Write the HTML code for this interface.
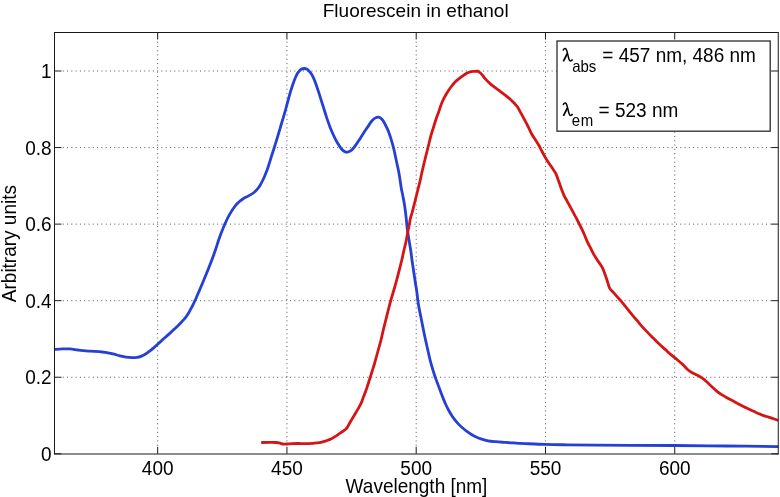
<!DOCTYPE html>
<html><head><meta charset="utf-8"><style>
html,body{margin:0;padding:0;background:#fff;width:780px;height:497px;overflow:hidden}
svg{display:block}
#w{width:780px;height:497px;will-change:transform}
text{font-family:"Liberation Sans",sans-serif;fill:#000}
</style></head><body>
<div id="w">
<svg width="780" height="497" viewBox="0 0 780 497">
<g>
<rect width="780" height="497" fill="#fff"/>
<line x1="62.78" y1="377.24" x2="771.25" y2="377.24" stroke="#555" stroke-width="1" stroke-dasharray="1 3.288"/>
<line x1="62.78" y1="300.68" x2="771.25" y2="300.68" stroke="#555" stroke-width="1" stroke-dasharray="1 3.288"/>
<line x1="62.78" y1="224.12" x2="771.25" y2="224.12" stroke="#555" stroke-width="1" stroke-dasharray="1 3.288"/>
<line x1="62.78" y1="147.56" x2="771.25" y2="147.56" stroke="#555" stroke-width="1" stroke-dasharray="1 3.288"/>
<line x1="62.78" y1="71" x2="771.25" y2="71" stroke="#555" stroke-width="1" stroke-dasharray="1 3.288"/>
<line x1="157.66" y1="445.72" x2="157.66" y2="39.5" stroke="#555" stroke-width="1" stroke-dasharray="1 3.288"/>
<line x1="286.93" y1="445.72" x2="286.93" y2="39.5" stroke="#555" stroke-width="1" stroke-dasharray="1 3.288"/>
<line x1="416.2" y1="445.72" x2="416.2" y2="39.5" stroke="#555" stroke-width="1" stroke-dasharray="1 3.288"/>
<line x1="545.47" y1="445.72" x2="545.47" y2="39.5" stroke="#555" stroke-width="1" stroke-dasharray="1 3.288"/>
<line x1="674.74" y1="445.72" x2="674.74" y2="39.5" stroke="#555" stroke-width="1" stroke-dasharray="1 3.288"/>
<line x1="54.5" y1="453.8" x2="61.5" y2="453.8" stroke="#1a1a1a" stroke-width="1"/>
<line x1="778.25" y1="453.8" x2="771.25" y2="453.8" stroke="#1a1a1a" stroke-width="1"/>
<line x1="54.5" y1="377.24" x2="61.5" y2="377.24" stroke="#1a1a1a" stroke-width="1"/>
<line x1="778.25" y1="377.24" x2="771.25" y2="377.24" stroke="#1a1a1a" stroke-width="1"/>
<line x1="54.5" y1="300.68" x2="61.5" y2="300.68" stroke="#1a1a1a" stroke-width="1"/>
<line x1="778.25" y1="300.68" x2="771.25" y2="300.68" stroke="#1a1a1a" stroke-width="1"/>
<line x1="54.5" y1="224.12" x2="61.5" y2="224.12" stroke="#1a1a1a" stroke-width="1"/>
<line x1="778.25" y1="224.12" x2="771.25" y2="224.12" stroke="#1a1a1a" stroke-width="1"/>
<line x1="54.5" y1="147.56" x2="61.5" y2="147.56" stroke="#1a1a1a" stroke-width="1"/>
<line x1="778.25" y1="147.56" x2="771.25" y2="147.56" stroke="#1a1a1a" stroke-width="1"/>
<line x1="54.5" y1="71" x2="61.5" y2="71" stroke="#1a1a1a" stroke-width="1"/>
<line x1="778.25" y1="71" x2="771.25" y2="71" stroke="#1a1a1a" stroke-width="1"/>
<line x1="157.66" y1="453.8" x2="157.66" y2="446.8" stroke="#1a1a1a" stroke-width="1"/>
<line x1="157.66" y1="32.5" x2="157.66" y2="39.5" stroke="#1a1a1a" stroke-width="1"/>
<line x1="286.93" y1="453.8" x2="286.93" y2="446.8" stroke="#1a1a1a" stroke-width="1"/>
<line x1="286.93" y1="32.5" x2="286.93" y2="39.5" stroke="#1a1a1a" stroke-width="1"/>
<line x1="416.2" y1="453.8" x2="416.2" y2="446.8" stroke="#1a1a1a" stroke-width="1"/>
<line x1="416.2" y1="32.5" x2="416.2" y2="39.5" stroke="#1a1a1a" stroke-width="1"/>
<line x1="545.47" y1="453.8" x2="545.47" y2="446.8" stroke="#1a1a1a" stroke-width="1"/>
<line x1="545.47" y1="32.5" x2="545.47" y2="39.5" stroke="#1a1a1a" stroke-width="1"/>
<line x1="674.74" y1="453.8" x2="674.74" y2="446.8" stroke="#1a1a1a" stroke-width="1"/>
<line x1="674.74" y1="32.5" x2="674.74" y2="39.5" stroke="#1a1a1a" stroke-width="1"/>
<path d="M54.5 349.4C55.75 349.32 59.42 348.98 62 348.9C64.58 348.82 67.33 348.72 70 348.9C72.67 349.08 75.33 349.67 78 350C80.67 350.33 83.33 350.67 86 350.9C88.67 351.13 91.33 351.22 94 351.4C96.67 351.58 99.67 351.77 102 352C104.33 352.23 106 352.43 108 352.8C110 353.17 112 353.68 114 354.2C116 354.72 118 355.4 120 355.9C122 356.4 124 356.9 126 357.2C128 357.5 130.17 357.67 132 357.7C133.83 357.73 135.5 357.62 137 357.4C138.5 357.18 139.5 357 141 356.4C142.5 355.8 144.5 354.73 146 353.8C147.5 352.87 148.67 351.83 150 350.8C151.33 349.77 152.67 348.73 154 347.6C155.33 346.47 156.67 345.22 158 344C159.33 342.78 160.67 341.52 162 340.3C163.33 339.08 164.67 337.9 166 336.7C167.33 335.5 168.67 334.32 170 333.1C171.33 331.88 172.67 330.63 174 329.4C175.33 328.17 176.67 327.02 178 325.7C179.33 324.38 180.75 322.85 182 321.5C183.25 320.15 184.42 318.97 185.5 317.6C186.58 316.23 187.58 314.8 188.5 313.3C189.42 311.8 190.13 310.27 191 308.6C191.87 306.93 192.83 305.07 193.7 303.3C194.57 301.53 195.38 299.83 196.2 298C197.02 296.17 197.8 294.17 198.6 292.3C199.4 290.43 200.17 288.77 201 286.8C201.83 284.83 202.63 282.83 203.6 280.5C204.57 278.17 205.73 275.42 206.8 272.8C207.87 270.18 208.93 267.55 210 264.8C211.07 262.05 212.2 259.05 213.2 256.3C214.2 253.55 215.13 250.88 216 248.3C216.87 245.72 217.6 243.18 218.4 240.8C219.2 238.42 220.02 236.1 220.8 234C221.58 231.9 222.32 230.08 223.1 228.2C223.88 226.32 224.68 224.5 225.5 222.7C226.32 220.9 227.13 219.08 228 217.4C228.87 215.72 229.78 214.13 230.7 212.6C231.62 211.07 232.52 209.58 233.5 208.2C234.48 206.82 235.55 205.47 236.6 204.3C237.65 203.13 238.7 202.13 239.8 201.2C240.9 200.27 242.05 199.43 243.2 198.7C244.35 197.97 245.52 197.43 246.7 196.8C247.88 196.17 249.08 195.62 250.3 194.9C251.52 194.18 252.83 193.45 254 192.5C255.17 191.55 256.3 190.38 257.3 189.2C258.3 188.02 259.15 186.77 260 185.4C260.85 184.03 261.62 182.57 262.4 181C263.18 179.43 263.95 177.73 264.7 176C265.45 174.27 266.18 172.55 266.9 170.6C267.62 168.65 268.28 166.53 269 164.3C269.72 162.07 270.45 159.58 271.2 157.2C271.95 154.82 272.73 152.42 273.5 150C274.27 147.58 275.05 145.13 275.8 142.7C276.55 140.27 277.28 137.8 278 135.4C278.72 133 279.4 130.67 280.1 128.3C280.8 125.93 281.5 123.55 282.2 121.2C282.9 118.85 283.62 116.57 284.3 114.2C284.98 111.83 285.65 109.4 286.3 107C286.95 104.6 287.58 102.08 288.2 99.8C288.82 97.52 289.38 95.38 290 93.3C290.62 91.22 291.27 89.22 291.9 87.3C292.53 85.38 293.17 83.52 293.8 81.8C294.43 80.08 295.05 78.45 295.7 77C296.35 75.55 297.02 74.2 297.7 73.1C298.38 72 299.08 71.1 299.8 70.4C300.52 69.7 301.25 69.22 302 68.9C302.75 68.58 303.53 68.47 304.3 68.5C305.07 68.53 305.83 68.7 306.6 69.1C307.37 69.5 308.12 70.12 308.9 70.9C309.68 71.68 310.52 72.58 311.3 73.8C312.08 75.02 312.87 76.6 313.6 78.2C314.33 79.8 315.02 81.57 315.7 83.4C316.38 85.23 317.03 87.18 317.7 89.2C318.37 91.22 319.03 93.4 319.7 95.5C320.37 97.6 321.03 99.68 321.7 101.8C322.37 103.92 323.03 106.08 323.7 108.2C324.37 110.32 325.02 112.38 325.7 114.5C326.38 116.62 327.08 118.82 327.8 120.9C328.52 122.98 329.23 125.02 330 127C330.77 128.98 331.57 130.92 332.4 132.8C333.23 134.68 334.12 136.55 335 138.3C335.88 140.05 336.78 141.75 337.7 143.3C338.62 144.85 339.58 146.37 340.5 147.6C341.42 148.83 342.27 149.93 343.2 150.7C344.13 151.47 345.08 152.05 346.1 152.2C347.12 152.35 348.23 152.1 349.3 151.6C350.37 151.1 351.43 150.28 352.5 149.2C353.57 148.12 354.62 146.58 355.7 145.1C356.78 143.62 357.92 141.93 359 140.3C360.08 138.67 361.13 136.97 362.2 135.3C363.27 133.63 364.33 131.92 365.4 130.3C366.47 128.68 367.5 127.18 368.6 125.6C369.7 124.02 370.85 122.08 372 120.8C373.15 119.52 374.42 118.5 375.5 117.9C376.58 117.3 377.58 117.12 378.5 117.2C379.42 117.28 380.2 117.75 381 118.4C381.8 119.05 382.52 119.92 383.3 121.1C384.08 122.28 384.88 123.9 385.7 125.5C386.52 127.1 387.45 128.88 388.2 130.7C388.95 132.52 389.55 134.42 390.2 136.4C390.85 138.38 391.47 140.38 392.1 142.6C392.73 144.82 393.42 147.25 394 149.7C394.58 152.15 395.07 154.8 395.6 157.3C396.13 159.8 396.67 162.2 397.2 164.7C397.73 167.2 398.32 169.72 398.8 172.3C399.28 174.88 399.68 177.55 400.1 180.2C400.52 182.85 400.83 185.53 401.3 188.2C401.77 190.87 402.38 193.53 402.9 196.2C403.42 198.87 403.97 201.53 404.4 204.2C404.83 206.87 405.17 209.53 405.5 212.2C405.83 214.87 406.12 217.53 406.4 220.2C406.68 222.87 406.87 225.53 407.2 228.2C407.53 230.87 407.98 233.53 408.4 236.2C408.82 238.87 409.27 241.53 409.7 244.2C410.13 246.87 410.62 249.53 411 252.2C411.38 254.87 411.63 257.53 412 260.2C412.37 262.87 412.8 265.53 413.2 268.2C413.6 270.87 414 273.53 414.4 276.2C414.8 278.87 415.18 281.53 415.6 284.2C416.02 286.87 416.53 289.53 416.9 292.2C417.27 294.87 417.43 297.53 417.8 300.2C418.17 302.87 418.62 305.53 419.1 308.2C419.58 310.87 420.17 313.53 420.7 316.2C421.23 318.87 421.77 321.53 422.3 324.2C422.83 326.87 423.35 329.53 423.9 332.2C424.45 334.87 425.02 337.53 425.6 340.2C426.18 342.87 426.8 345.53 427.4 348.2C428 350.87 428.57 353.53 429.2 356.2C429.83 358.87 430.47 361.53 431.2 364.2C431.93 366.87 432.78 369.63 433.6 372.2C434.42 374.77 435.23 377.18 436.1 379.6C436.97 382.02 437.95 384.43 438.8 386.7C439.65 388.97 440.4 391.08 441.2 393.2C442 395.32 442.8 397.43 443.6 399.4C444.4 401.37 445.13 403.15 446 405C446.87 406.85 447.82 408.72 448.8 410.5C449.78 412.28 450.82 414.05 451.9 415.7C452.98 417.35 454.12 418.92 455.3 420.4C456.48 421.88 457.72 423.28 459 424.6C460.28 425.92 461.63 427.13 463 428.3C464.37 429.47 465.78 430.57 467.2 431.6C468.62 432.63 470 433.58 471.5 434.5C473 435.42 474.62 436.37 476.2 437.1C477.78 437.83 479.02 438.28 481 438.9C482.98 439.52 485.63 440.33 488.1 440.8C490.57 441.27 493.23 441.45 495.8 441.7C498.37 441.95 500.93 442.12 503.5 442.3C506.07 442.48 508.65 442.63 511.2 442.8C513.75 442.97 516.5 443.17 518.8 443.3C521.1 443.43 520.5 443.42 525 443.6C529.5 443.78 538.82 444.2 545.8 444.4C552.78 444.6 558.57 444.67 566.9 444.8C575.23 444.93 585.28 445.12 595.8 445.2C606.32 445.28 616.93 445.25 630 445.3C643.07 445.35 658.2 445.38 674.2 445.5C690.2 445.62 708.67 445.82 726 446C743.33 446.18 769.5 446.5 778.2 446.6" fill="none" stroke="#2540d5" stroke-width="2.8" stroke-linejoin="round"/>
<path d="M261.2 442.5C262.67 442.48 267.45 442.4 270 442.4C272.55 442.4 274.83 442.37 276.5 442.5C278.17 442.63 278.8 442.93 280 443.2C281.2 443.47 282.03 444 283.7 444.1C285.37 444.2 287.67 443.9 290 443.8C292.33 443.7 295.13 443.53 297.7 443.5C300.27 443.47 302.83 443.63 305.4 443.6C307.97 443.57 311.17 443.42 313.1 443.3C315.03 443.18 315.72 443.07 317 442.9C318.28 442.73 319.27 442.65 320.8 442.3C322.33 441.95 324.42 441.38 326.2 440.8C327.98 440.22 329.83 439.63 331.5 438.8C333.17 437.97 334.65 436.82 336.2 435.8C337.75 434.78 339.27 433.75 340.8 432.7C342.33 431.65 344.33 430.37 345.4 429.5C346.47 428.63 346.42 428.72 347.2 427.5C347.98 426.28 349.12 423.92 350.1 422.2C351.08 420.48 352.1 418.87 353.1 417.2C354.1 415.53 355.1 413.88 356.1 412.2C357.1 410.52 358.18 408.78 359.1 407.1C360.02 405.42 360.85 403.85 361.6 402.1C362.35 400.35 362.93 398.37 363.6 396.6C364.27 394.83 364.98 393.18 365.6 391.5C366.22 389.82 366.67 388.42 367.3 386.5C367.93 384.58 368.63 382.42 369.4 380C370.17 377.58 371.07 374.67 371.9 372C372.73 369.33 373.62 366.67 374.4 364C375.18 361.33 375.87 358.67 376.6 356C377.33 353.33 378.07 350.67 378.8 348C379.53 345.33 380.25 343 381 340C381.75 337 382.5 333.33 383.3 330C384.1 326.67 384.97 323.33 385.8 320C386.63 316.67 387.45 313.33 388.3 310C389.15 306.67 389.97 303.33 390.9 300C391.83 296.67 392.93 293.33 393.9 290C394.87 286.67 395.8 283.33 396.7 280C397.6 276.67 398.45 273.33 399.3 270C400.15 266.67 401.02 263.33 401.8 260C402.58 256.67 403.32 253 404 250C404.68 247 405.27 245 405.9 242C406.53 239 407.22 235 407.8 232C408.38 229 408.95 226.33 409.4 224C409.85 221.67 410.02 220 410.5 218C410.98 216 411.67 214.33 412.3 212C412.93 209.67 413.63 206.67 414.3 204C414.97 201.33 415.63 198.67 416.3 196C416.97 193.33 417.63 190.67 418.3 188C418.97 185.33 419.68 182.67 420.3 180C420.92 177.33 421.4 174.67 422 172C422.6 169.33 423.27 166.67 423.9 164C424.53 161.33 425.27 158.17 425.8 156C426.33 153.83 426.55 153.17 427.1 151C427.65 148.83 428.43 145.67 429.1 143C429.77 140.33 430.35 137.67 431.1 135C431.85 132.33 432.77 129.67 433.6 127C434.43 124.33 435.2 121.67 436.1 119C437 116.33 438.3 113 439 111C439.7 109 439.7 108.67 440.3 107C440.9 105.33 441.78 102.83 442.6 101C443.42 99.17 444.27 97.67 445.2 96C446.13 94.33 447.12 92.67 448.2 91C449.28 89.33 450.55 87.5 451.7 86C452.85 84.5 453.87 83.23 455.1 82C456.33 80.77 457.75 79.67 459.1 78.6C460.45 77.53 461.85 76.53 463.2 75.6C464.55 74.67 465.87 73.67 467.2 73C468.53 72.33 470.07 71.88 471.2 71.6C472.33 71.32 472.87 71.38 474 71.3C475.13 71.22 477.33 71.13 478 71.1C478.52 71.52 479.92 72.35 481.1 73.6C482.28 74.85 483.6 76.93 485.1 78.6C486.6 80.27 488.42 82.08 490.1 83.6C491.78 85.12 493.52 86.4 495.2 87.7C496.88 89 498.53 90.15 500.2 91.4C501.87 92.65 503.53 93.9 505.2 95.2C506.87 96.5 508.68 97.87 510.2 99.2C511.72 100.53 513.1 101.95 514.3 103.2C515.5 104.45 516.43 105.3 517.4 106.7C518.37 108.1 519.15 109.87 520.1 111.6C521.05 113.33 522.1 115.27 523.1 117.1C524.1 118.93 525.1 120.67 526.1 122.6C527.1 124.53 528.1 126.68 529.1 128.7C530.1 130.72 531 132.78 532.1 134.7C533.2 136.62 534.53 138.35 535.7 140.2C536.87 142.05 538.05 143.93 539.1 145.8C540.15 147.67 541 149.52 542 151.4C543 153.28 544.08 155.32 545.1 157.1C546.12 158.88 546.93 160.33 548.1 162.1C549.27 163.87 550.85 165.85 552.1 167.7C553.35 169.55 554.68 171.45 555.6 173.2C556.52 174.95 556.93 176.43 557.6 178.2C558.27 179.97 558.93 181.93 559.6 183.8C560.27 185.67 560.85 187.43 561.6 189.4C562.35 191.37 563.18 193.65 564.1 195.6C565.02 197.55 566.1 199.27 567.1 201.1C568.1 202.93 569.1 204.75 570.1 206.6C571.1 208.45 572.1 210.35 573.1 212.2C574.1 214.05 575.1 215.78 576.1 217.7C577.1 219.62 578.12 221.77 579.1 223.7C580.08 225.63 581.08 227.38 582 229.3C582.92 231.22 583.68 233.07 584.6 235.2C585.52 237.33 586.5 239.95 587.5 242.1C588.5 244.25 589.58 246.1 590.6 248.1C591.62 250.1 592.52 252.17 593.6 254.1C594.68 256.03 595.93 257.93 597.1 259.7C598.27 261.47 599.68 263.28 600.6 264.7C601.52 266.12 601.93 266.77 602.6 268.2C603.27 269.63 603.9 271.42 604.6 273.3C605.3 275.18 605.97 277.03 606.8 279.5C607.63 281.97 608.55 286 609.6 288.1C610.65 290.2 611.85 290.68 613.1 292.1C614.35 293.52 615.77 295.08 617.1 296.6C618.43 298.12 619.75 299.6 621.1 301.2C622.45 302.8 623.85 304.53 625.2 306.2C626.55 307.87 627.87 309.53 629.2 311.2C630.53 312.87 631.87 314.63 633.2 316.2C634.53 317.77 635.9 319.08 637.2 320.6C638.5 322.12 639.35 323.42 641 325.3C642.65 327.18 645.08 329.8 647.1 331.9C649.12 334 651.08 335.88 653.1 337.9C655.12 339.92 657.18 342.08 659.2 344C661.22 345.92 663.2 347.58 665.2 349.4C667.2 351.22 669.18 353.18 671.2 354.9C673.22 356.62 675.28 358 677.3 359.7C679.32 361.4 681.5 363.38 683.3 365.1C685.1 366.82 686.62 368.73 688.1 370C689.58 371.27 690.7 371.85 692.2 372.7C693.7 373.55 695.48 374.23 697.1 375.1C698.72 375.97 700.3 376.8 701.9 377.9C703.5 379 705.08 380.25 706.7 381.7C708.32 383.15 709.98 385.08 711.6 386.6C713.22 388.12 714.8 389.5 716.4 390.8C718 392.1 719.38 393.2 721.2 394.4C723.02 395.6 725.28 396.88 727.3 398C729.32 399.12 731.27 400.03 733.3 401.1C735.33 402.17 737.63 403.4 739.5 404.4C741.37 405.4 742.87 406.28 744.5 407.1C746.13 407.92 747.68 408.55 749.3 409.3C750.92 410.05 752.58 410.85 754.2 411.6C755.82 412.35 757.4 413.13 759 413.8C760.6 414.47 762.2 415.05 763.8 415.6C765.4 416.15 766.98 416.58 768.6 417.1C770.22 417.62 771.9 418.15 773.5 418.7C775.1 419.25 777.42 420.12 778.2 420.4" fill="none" stroke="#d51515" stroke-width="2.8" stroke-linejoin="round"/>
<path d="M54.5 32.5H778.25M54.5 454H778.25M54.5 32V454.5M778.25 32V454.5" fill="none" stroke="#1a1a1a" stroke-width="1"/>
<rect x="557" y="41" width="213.2" height="90.2" fill="#fff" stroke="#333" stroke-width="1.35"/>
<text transform="translate(415.7 17.2)" text-anchor="middle" font-size="19">Fluorescein in ethanol</text>
<text transform="translate(157.66 474.5) scale(1 1.02)" text-anchor="middle" font-size="19">400</text>
<text transform="translate(286.93 474.5) scale(1 1.02)" text-anchor="middle" font-size="19">450</text>
<text transform="translate(416.2 474.5) scale(1 1.02)" text-anchor="middle" font-size="19">500</text>
<text transform="translate(545.47 474.5) scale(1 1.02)" text-anchor="middle" font-size="19">550</text>
<text transform="translate(674.74 474.5) scale(1 1.02)" text-anchor="middle" font-size="19">600</text>
<text transform="translate(51.6 461) scale(1 1.02)" text-anchor="end" font-size="19">0</text>
<text transform="translate(51.6 384.44) scale(1 1.02)" text-anchor="end" font-size="19">0.2</text>
<text transform="translate(51.6 307.88) scale(1 1.02)" text-anchor="end" font-size="19">0.4</text>
<text transform="translate(51.6 231.32) scale(1 1.02)" text-anchor="end" font-size="19">0.6</text>
<text transform="translate(51.6 154.76) scale(1 1.02)" text-anchor="end" font-size="19">0.8</text>
<text transform="translate(51.6 78.2) scale(1 1.02)" text-anchor="end" font-size="19">1</text>
<text transform="translate(416.5 492.7) scale(1 1.045)" text-anchor="middle" font-size="19">Wavelength [nm]</text>
<text transform="translate(16.4 243.6) rotate(-90) scale(1 1.045)" text-anchor="middle" font-size="19">Arbitrary units</text>
<path d="M563.1 50.6C563.4 48.8 565.3 47.8 566.2 49.3C567 50.6 567.7 53.8 568.5 57.5C569.1 60.2 569.9 61.2 570.9 60.9C571.6 60.6 572.1 60 572.5 59.3" fill="none" stroke="#000" stroke-width="1.45"/><path d="M567.3 53.5L563.3 61.3" fill="none" stroke="#000" stroke-width="1.7"/>
<g transform="translate(0.1 54.5)"><path d="M563.1 50.6C563.4 48.8 565.3 47.8 566.2 49.3C567 50.6 567.7 53.8 568.5 57.5C569.1 60.2 569.9 61.2 570.9 60.9C571.6 60.6 572.1 60 572.5 59.3" fill="none" stroke="#000" stroke-width="1.45"/><path d="M567.3 53.5L563.3 61.3" fill="none" stroke="#000" stroke-width="1.7"/></g>
<text transform="translate(572.2 71.5) scale(1 1.045)" font-size="15">abs</text>
<text transform="translate(602.3 61.8) scale(1 1.045)" font-size="19">= 457 nm, 486 nm</text>
<text transform="translate(571.8 125.8) scale(1 1.045)" font-size="15" letter-spacing="0.7">em</text>
<text transform="translate(598.6 116.5) scale(1 1.045)" font-size="19">= 523 nm</text>
</g>
</svg>
</div>
</body></html>
